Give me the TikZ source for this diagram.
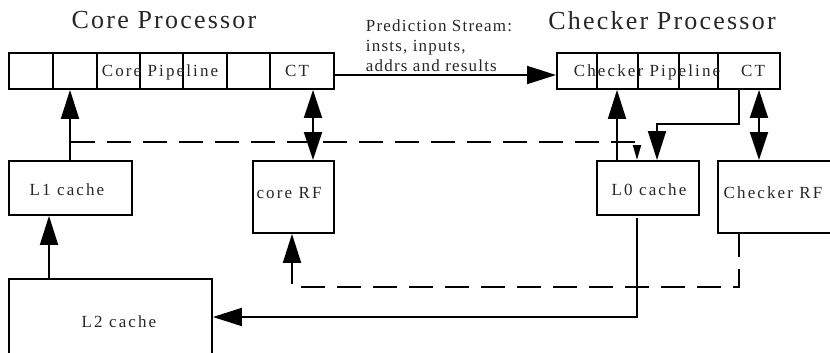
\documentclass[tikz,border=0pt]{standalone}
\usepackage{fontspec}
\setmainfont{Liberation Serif}
\newfontfamily\titlefont[LetterSpace=8.5]{Liberation Serif}
\newfontfamily\boxfont[LetterSpace=12.5]{Liberation Serif}
\newfontfamily\predfont[LetterSpace=7]{Liberation Serif}
\usetikzlibrary{arrows.meta}
\begin{document}
\begin{tikzpicture}[x=1pt,y=-1pt,line width=1.9pt,
  box/.style={draw,rectangle,inner sep=0pt,anchor=north west},
  lbl/.style={font=\boxfont\fontsize{17}{20}\selectfont,inner sep=0pt,anchor=base,text=black!85},
  ttl/.style={font=\titlefont\fontsize{26}{30}\selectfont,inner sep=0pt,anchor=base,text=black!85},
  prd/.style={font=\predfont\fontsize{17}{20}\selectfont,inner sep=0pt,anchor=base west,text=black!85},
  big/.style={-{Triangle[length=29pt,width=18pt]}},
  dbl/.style={{Triangle[length=28pt,width=18pt]}-{Triangle[length=28pt,width=18pt]}},
  small/.style={-{Triangle[length=15pt,width=8pt]}},
  dsh/.style={dash pattern=on 24pt off 12pt}]
\useasboundingbox (0,0) rectangle (830,353);
\begin{scope}
\clip (0,0) rectangle (830,353);
% titles
\node[ttl] (t1) at (164,29) {Core Processor};
\node[ttl] (t2) at (662,30) {Checker Processor};
% core pipeline stages
\node[box,minimum width=44pt,minimum height=36pt] (cs1) at (8,52) {};
\node[box,minimum width=44pt,minimum height=36pt] (cs2) at (52,52) {};
\node[box,minimum width=43pt,minimum height=36pt] (cs3) at (96,52) {};
\node[box,minimum width=43pt,minimum height=36pt] (cs4) at (139,52) {};
\node[box,minimum width=44pt,minimum height=36pt] (cs5) at (182,52) {};
\node[box,minimum width=43pt,minimum height=36pt] (cs6) at (226,52) {};
\node[box,minimum width=64pt,minimum height=36pt] (cs7) at (269,52) {};
\node[lbl] (cpl) at (160,77) {Core Pipeline};
\node[lbl] (cct) at (297,77) {CT};
% checker pipeline stages
\node[box,minimum width=40pt,minimum height=36pt] (ks1) at (556,52) {};
\node[box,minimum width=41pt,minimum height=36pt] (ks2) at (596,52) {};
\node[box,minimum width=41pt,minimum height=36pt] (ks3) at (637,52) {};
\node[box,minimum width=39pt,minimum height=36pt] (ks4) at (678,52) {};
\node[box,minimum width=62pt,minimum height=36pt] (ks5) at (717,52) {};
\node[lbl] (kpl) at (647,77) {Checker Pipeline};
\node[lbl] (kct) at (753,77) {CT};
% prediction stream text
\node[prd] (p1) at (365,32) {Prediction Stream:};
\node[prd] (p2) at (365,52) {insts, inputs,};
\node[prd] (p3) at (365,72) {addrs and results};
% lower boxes
\node[box,minimum width=123pt,minimum height=54pt] (l1) at (8,160) {};
\node[lbl] (l1t) at (67,195) {L1 cache};
\node[box,minimum width=81pt,minimum height=72pt] (crf) at (252,160) {};
\node[lbl] (crft) at (289,198) {core RF};
\node[box,minimum width=203pt,minimum height=100pt] (l2) at (8,278) {};
\node[lbl] (l2t) at (119,327) {L2 cache};
\node[box,minimum width=102pt,minimum height=54pt] (l0) at (596,160) {};
\node[lbl] (l0t) at (649,195) {L0 cache};
\node[box,minimum width=140pt,minimum height=72pt] (krf) at (717,160) {};
\node[lbl] (krft) at (773,198) {Checker RF};
% helper coordinates
\coordinate (x49) at (49,0);
\coordinate (x70) at (70,0);
\coordinate (x313) at (313,0);
\coordinate (y75) at (0,75);
\coordinate (dA) at (71,142);
\coordinate (dB) at (637,142);
\coordinate (x617) at (617,0);
\coordinate (bA) at (739,124);
\coordinate (bB) at (657,124);
\coordinate (x759) at (759,0);
\coordinate (eA) at (739,233);
\coordinate (eB) at (739,287);
\coordinate (eC) at (292,287);
\coordinate (sA) at (637,218);
\coordinate (sB) at (637,317);
% connectors
\draw[big] (l1.north -| x70) -- (cs2.south -| x70);
\draw[big] (l2.north -| x49) -- (l1.south -| x49);
\draw[dbl] (cs7.south -| x313) -- (crf.north -| x313);
\draw[big] (cs7.east |- y75) -- (ks1.west |- y75);
\draw[dsh,small] (dA) -- (dB) -- (l0.north -| dB);
\draw[big] (l0.north -| x617) -- (ks2.south -| x617);
\draw[big] (ks5.south -| bA) -- (bA) -- (bB) -- (l0.north -| bB);
\draw[dbl] (ks5.south -| x759) -- (krf.north -| x759);
\draw[dsh,big] (eA) -- (eB) -- (eC) -- (crf.south -| eC);
\draw[big] (sA) -- (sB) -- (l2.east |- sB);
\end{scope}
\end{tikzpicture}
\end{document}
